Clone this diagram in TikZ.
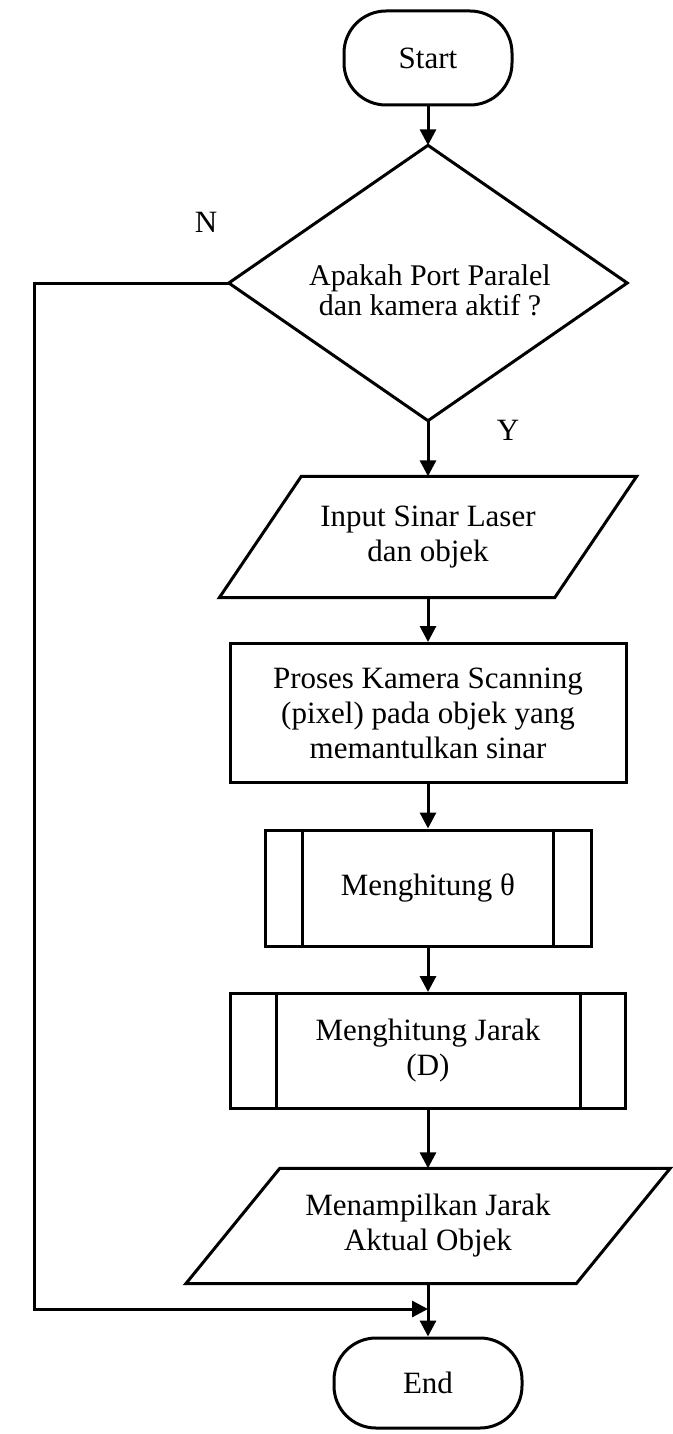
\documentclass[tikz,border=0pt]{standalone}
\usepackage{fontspec}
\setmainfont{Liberation Serif}
\usetikzlibrary{arrows.meta,calc}
\begin{document}
\begin{tikzpicture}[x=1pt,y=-1pt,
  every node/.style={font=\fontsize{31}{35}\selectfont, align=center, inner sep=0pt},
  line/.style={line width=3pt, line join=miter},
  arr/.style={line width=3pt, -{Triangle[length=16pt,width=16pt]}},
  term/.style={draw, line width=3pt, rounded corners=42pt, minimum width=#1, minimum height=94pt},
  procbox/.style={draw, line width=3pt, minimum width=#1},
  plain/.style={minimum width=#1}
]
\useasboundingbox (0,0) rectangle (672,1434);

% Start
\node[term=168pt] (start) at (428,58) {Start};

% Decision
\node[plain=398pt, minimum height=275pt] (dia) at (428,283) {};
\draw[line] (dia.north) -- (dia.east) -- (dia.south) -- (dia.west) -- cycle;
\node[font=\fontsize{30}{30}\selectfont] (diatext) at (430,290) {Apakah Port Paralel\\dan kamera aktif ?};

% Labels
\node (lN) at (206,222) {N};
\node (lY) at (508,430) {Y};

% Input parallelogram
\node[plain=335pt, minimum height=121pt] (p1) at (428,537) {Input Sinar Laser\\dan objek};
\draw[line] ([xshift=41pt]p1.north west) -- ([xshift=41pt]p1.north east)
  -- ([xshift=-41pt]p1.south east) -- ([xshift=-41pt]p1.south west) -- cycle;

% Process
\node[procbox=396pt, minimum height=139pt] (proc) at (428,713) {Proses Kamera Scanning\\(pixel) pada objek yang\\memantulkan sinar};

% Predefined process 1
\node[procbox=326pt, minimum height=116pt] (m1) at (428,888) {Menghitung θ};
\draw[line] ([xshift=39pt]m1.north west) -- ([xshift=39pt]m1.south west);
\draw[line] ([xshift=-39pt]m1.north east) -- ([xshift=-39pt]m1.south east);

% Predefined process 2
\node[procbox=395pt, minimum height=115pt] (m2) at (428,1051) {Menghitung Jarak\\(D)};
\draw[line] ([xshift=47pt]m2.north west) -- ([xshift=47pt]m2.south west);
\draw[line] ([xshift=-47pt]m2.north east) -- ([xshift=-47pt]m2.south east);

% Output parallelogram
\node[plain=390pt, minimum height=115pt] (p2) at (428,1226) {Menampilkan Jarak\\Aktual Objek};
\draw[line] ([xshift=47pt]p2.north west) -- ([xshift=47pt]p2.north east)
  -- ([xshift=-47pt]p2.south east) -- ([xshift=-47pt]p2.south west) -- cycle;

% End
\node[term=188pt, minimum height=90pt] (end) at (428,1383) {End};

% Connectors
\coordinate (nc) at (34,1309);
\coordinate (join) at (428,1309);
\draw[arr] (start) -- (dia.north);
\draw[arr] (dia.south) -- (p1.north);
\draw[arr] (p1.south) -- (proc.north);
\draw[arr] (proc.south) -- (m1.north);
\draw[arr] (m1.south) -- (m2.north);
\draw[arr] (m2.south) -- (p2.north);
\draw[arr] (p2.south) -- (end.north);
\draw[arr] (dia.west) -- (dia.west -| nc) -- (nc) -- (join);
\end{tikzpicture}
\end{document}
